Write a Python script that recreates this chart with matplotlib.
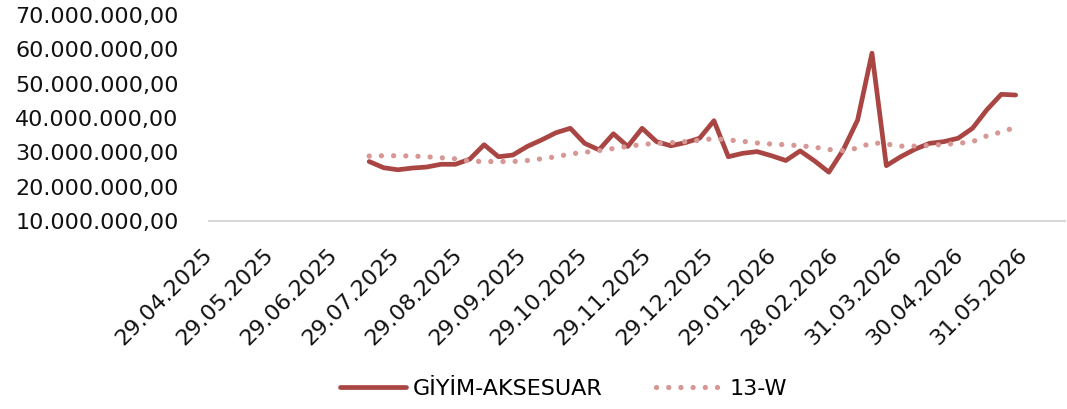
import matplotlib
matplotlib.use("Agg")
import matplotlib.pyplot as plt
import pandas as pd

# weekly sales, GİYİM-AKSESUAR (millions)
sales_m = [27.3, 25.5, 24.9, 25.4, 25.7, 26.5, 26.5, 28.0, 32.2, 28.7,
           29.2, 31.7, 33.6, 35.7, 37.0, 32.6, 30.7, 35.4, 31.7, 37.0,
           33.1, 31.9, 32.8, 34.1, 39.2, 28.7, 29.7, 30.2, 29.0, 27.6,
           30.4, 27.5, 24.2, 30.7, 39.4, 58.9, 26.1, 28.7, 30.9, 32.6,
           33.1, 34.1, 37.0, 42.4, 46.9, 46.7]
# 13-week line (millions)
w13_m = [28.9, 29.0, 29.0, 28.9, 28.7, 28.4, 28.1, 27.4, 27.3, 27.3,
         27.3, 27.6, 28.1, 28.7, 29.5, 30.0, 30.5, 31.1, 31.7, 32.3,
         32.6, 32.8, 33.1, 33.5, 34.0, 33.6, 33.2, 32.7, 32.4, 32.2,
         31.9, 31.5, 30.8, 30.5, 31.2, 32.8, 32.4, 31.8, 31.8, 32.0,
         32.3, 32.6, 33.1, 34.8, 35.9, 37.3]
weeks = pd.date_range("2025-07-16", periods=len(sales_m), freq="7D")

tick_labels = ["29.04.2025", "29.05.2025", "29.06.2025", "29.07.2025",
               "29.08.2025", "29.09.2025", "29.10.2025", "29.11.2025",
               "29.12.2025", "29.01.2026", "28.02.2026", "31.03.2026",
               "30.04.2026", "31.05.2026"]
tick_dates = pd.to_datetime(tick_labels, format="%d.%m.%Y")

plt.rcParams['font.family'] = ['DejaVu Sans']

fig = plt.figure(figsize=(10.67, 4.09), dpi=100)
ax = fig.add_axes([0.196, 0.46, 0.802, 0.503])

ax.plot(weeks, [v * 1e6 for v in sales_m], color='#A94643', linewidth=3.4,
        solid_capstyle='round', solid_joinstyle='round', label='GİYİM-AKSESUAR')
ax.plot(weeks, [v * 1e6 for v in w13_m], color='#D79794', linewidth=3.8,
        linestyle=(0, (0.01, 2.3)), dash_capstyle='round', label='13-W')

ax.set_ylim(10e6, 70e6)
ax.set_xlim(pd.Timestamp("2025-04-29"), pd.Timestamp("2026-06-20"))
ax.set_yticks([v * 1e6 for v in range(10, 71, 10)])
ax.yaxis.set_major_formatter(plt.FuncFormatter(
    lambda v, p: f"{v:,.2f}".replace(",", "X").replace(".", ",").replace("X", ".")))
ax.set_xticks(tick_dates)
ax.set_xticklabels(tick_labels, rotation=45, ha='right', va='center',
                   rotation_mode='anchor')

for s in ['top', 'right', 'left']:
    ax.spines[s].set_visible(False)
ax.spines['bottom'].set_color('#d9d9d9')
ax.spines['bottom'].set_linewidth(1.5)
ax.tick_params(axis='both', length=0, labelsize=16, colors='#111111')
ax.tick_params(axis='y', pad=22)
ax.tick_params(axis='x', pad=22)

fig.legend(loc='center', bbox_to_anchor=(0.528, 0.05), ncol=2, frameon=False,
           fontsize=16, handlelength=3.0, columnspacing=2.4, handletextpad=0.3)

fig.savefig("out.png", dpi=100)
